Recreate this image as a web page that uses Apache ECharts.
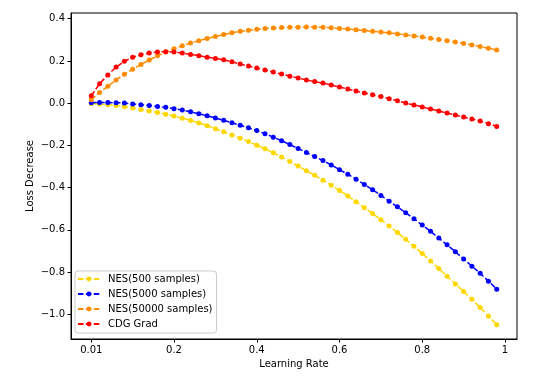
<!DOCTYPE html>
<html>
<head>
<meta charset="utf-8">
<script src="https://cdn.jsdelivr.net/npm/echarts@6/dist/echarts.min.js"></script>
<style>
html,body{margin:0;padding:0;background:#fff;}
#chart{width:550px;height:381px;}
</style>
</head>
<body>
<div id="chart"></div>
<script>
// Learning-rate positions of the sample points
var learningRates = [0.00,0.02,0.04,0.06,0.08,0.10,0.12,0.14,0.16,0.18,
  0.20,0.22,0.24,0.26,0.28,0.30,0.32,0.34,0.36,0.38,
  0.40,0.42,0.44,0.46,0.48,0.50,0.52,0.54,0.56,0.58,
  0.60,0.62,0.64,0.66,0.68,0.70,0.72,0.74,0.76,0.78,
  0.80,0.82,0.84,0.86,0.88,0.90,0.92,0.94,0.96,0.98];

var seriesNames = ['NES(500 samples)','NES(5000 samples)','NES(50000 samples)','CDG Grad'];

var nes500 = [-0.002,-0.004,-0.007,-0.011,-0.017,-0.023,-0.030,-0.037,-0.044,-0.052,
  -0.061,-0.071,-0.082,-0.094,-0.107,-0.121,-0.136,-0.151,-0.166,-0.182,
  -0.199,-0.216,-0.235,-0.255,-0.276,-0.298,-0.320,-0.342,-0.365,-0.389,
  -0.414,-0.440,-0.467,-0.495,-0.523,-0.552,-0.582,-0.613,-0.645,-0.678,
  -0.712,-0.747,-0.783,-0.820,-0.856,-0.892,-0.929,-0.968,-1.009,-1.049];

var nes5000 = [0.002,0.003,0.003,0.002,0.001,-0.004,-0.007,-0.011,-0.016,-0.019,
  -0.026,-0.033,-0.041,-0.050,-0.060,-0.070,-0.081,-0.093,-0.105,-0.117,
  -0.130,-0.145,-0.161,-0.178,-0.196,-0.215,-0.234,-0.253,-0.272,-0.293,
  -0.315,-0.337,-0.360,-0.385,-0.410,-0.437,-0.464,-0.491,-0.519,-0.548,
  -0.577,-0.607,-0.639,-0.671,-0.704,-0.738,-0.772,-0.806,-0.843,-0.881];

var nes50000 = [0.016,0.051,0.080,0.110,0.137,0.161,0.183,0.204,0.224,0.242,
  0.258,0.272,0.285,0.296,0.306,0.316,0.325,0.333,0.340,0.345,
  0.350,0.353,0.356,0.358,0.359,0.360,0.361,0.360,0.359,0.357,
  0.354,0.351,0.348,0.344,0.340,0.337,0.333,0.328,0.323,0.318,
  0.313,0.307,0.302,0.296,0.290,0.283,0.276,0.268,0.260,0.252];

var cdgGrad = [0.035,0.092,0.133,0.171,0.198,0.217,0.229,0.237,0.242,0.244,
  0.242,0.237,0.231,0.225,0.218,0.212,0.205,0.196,0.185,0.176,
  0.166,0.157,0.147,0.138,0.128,0.119,0.110,0.102,0.095,0.086,
  0.076,0.067,0.057,0.048,0.040,0.031,0.021,0.011,0.001,-0.009,
  -0.018,-0.028,-0.037,-0.047,-0.056,-0.066,-0.075,-0.085,-0.097,-0.110];

var xTickValues = [0, 0.2, 0.4, 0.6, 0.8, 1];
var xTickLabels = ['0.01', '0.2', '0.4', '0.6', '0.8', '1'];
var yTickValues = [-1.0, -0.8, -0.6, -0.4, -0.2, 0.0, 0.2, 0.4];

var colors = ['#FFD700', '#0000FF', '#FF8C00', '#FF0000'];
var allValues = [nes500, nes5000, nes50000, cdgGrad];

function pairs(ys){ return ys.map(function(v,i){ return [learningRates[i], v]; }); }

var font = 'DejaVu Sans';
var series = seriesNames.map(function(name, k){
  return {
    name: name, type: 'line', data: pairs(allValues[k]),
    symbol: 'circle', symbolSize: 5, showSymbol: true,
    lineStyle: {color: colors[k], width: 1.5, type: [5.5, 2.4]},
    itemStyle: {color: colors[k]},
    emphasis: {disabled: true}
  };
});

var chart = echarts.init(document.getElementById('chart'), null, {renderer: 'canvas'});
chart.setOption({
  animation: false,
  backgroundColor: '#fff',
  grid: {left: 71, right: 33, top: 13, bottom: 42, show: true, borderColor: '#000', borderWidth: 1, backgroundColor: 'transparent'},
  xAxis: {
    type: 'value', min: -0.049, max: 1.029,
    name: 'Learning Rate', nameLocation: 'middle', nameGap: 20, nameMoveOverlap: false,
    nameTextStyle: {fontFamily: font, fontSize: 10, color: '#000'},
    axisLine: {show: true, onZero: false, lineStyle: {color: '#000', width: 1}},
    axisTick: {show: true, inside: false, length: 3.5, customValues: xTickValues, lineStyle: {color: '#000'}},
    axisLabel: {customValues: xTickValues, margin: 6, fontFamily: font, fontSize: 10, color: '#000',
      formatter: function(v){ var i = xTickValues.indexOf(v); return i >= 0 ? xTickLabels[i] : ''; }},
    splitLine: {show: false}
  },
  yAxis: {
    type: 'value', min: -1.117, max: 0.427,
    name: 'Loss Decrease', nameLocation: 'middle', nameGap: 36, nameRotate: 90, nameMoveOverlap: false,
    nameTextStyle: {fontFamily: font, fontSize: 10, color: '#000'},
    axisLine: {show: true, onZero: false, lineStyle: {color: '#000', width: 1}},
    axisTick: {show: true, inside: false, length: 3.5, customValues: yTickValues, lineStyle: {color: '#000'}},
    axisLabel: {customValues: yTickValues, margin: 6, fontFamily: font, fontSize: 10, color: '#000',
      formatter: function(v){ var s = Math.abs(v).toFixed(1); return v < -1e-9 ? '\u2212' + s : s; }},
    splitLine: {show: false}
  },
  legend: {
    show: true, orient: 'vertical', left: 75, top: 271,
    itemWidth: 22, itemHeight: 6, itemGap: 5,
    padding: [3, 4, 4, 2],
    borderColor: '#cccccc', borderWidth: 1, borderRadius: 3, backgroundColor: 'rgba(255,255,255,0.8)',
    textStyle: {fontFamily: font, fontSize: 10, lineHeight: 10, color: '#000', padding: [0, 0, 0, 3]},
    data: seriesNames
  },
  series: series
});
</script>
</body>
</html>
